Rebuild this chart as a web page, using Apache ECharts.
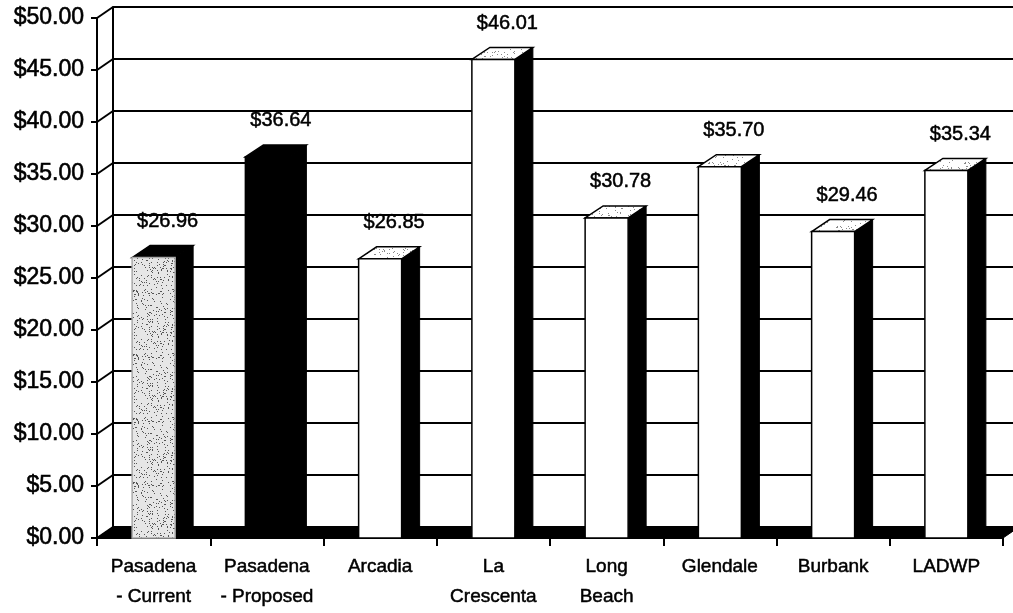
<!DOCTYPE html>
<html>
<head>
<meta charset="utf-8">
<script src="https://cdn.jsdelivr.net/npm/echarts@6/dist/echarts.min.js"></script>
<style>
html,body{margin:0;padding:0;background:#fff}
#chart{width:1013px;height:613px}
</style>
</head>
<body>
<div id="chart"></div>
<script>
// Monthly bill by utility
const categories = ['Pasadena\n- Current', 'Pasadena\n- Proposed', 'Arcadia', 'La\nCrescenta', 'Long\nBeach', 'Glendale', 'Burbank', 'LADWP'];
const rates = [26.96, 36.64, 26.85, 46.01, 30.78, 35.70, 29.46, 35.34];
const tickValues = [0, 5, 10, 15, 20, 25, 30, 35, 40, 45, 50];

// 3D look: back wall offset and bar depth (pixels)
const WALL_DX = 16, WALL_DY = 11;
const BAR_DX = 18, BAR_DY = 12, BAR_W = 43;
const FONT = '"Liberation Sans", Arial, sans-serif';
const money = v => '$' + v.toFixed(2);

// speckled texture for the current-rate bar (fixed hash, same every render)
function stippleCanvas(base, dot, density) {
  const size = 64;
  const c = document.createElement('canvas');
  c.width = c.height = size;
  const g = c.getContext('2d');
  g.fillStyle = base;
  g.fillRect(0, 0, size, size);
  g.fillStyle = dot;
  for (let i = 0; i < size; i++) {
    for (let j = 0; j < size; j++) {
      let h = Math.imul(i + 1, 374761393) ^ Math.imul(j + 7, 668265263);
      h = Math.imul(h ^ (h >>> 13), 1274126177);
      h = (h ^ (h >>> 16)) >>> 0;
      if ((h % 1000) < density) g.fillRect(i, j, 1, 1);
    }
  }
  return c;
}
const grainFront = { image: stippleCanvas('#e6e6e6', '#555', 90), repeat: 'repeat' };
const grainTop = { image: stippleCanvas('#ffffff', '#8a8a8a', 60), repeat: 'repeat' };

const chart = echarts.init(document.getElementById('chart'), null, { renderer: 'canvas' });

chart.setOption({
  animation: false,
  backgroundColor: '#fff',
  grid: [
    { left: 97, right: 10, top: 18, bottom: 75 },
    { left: 97 + WALL_DX, right: -20, top: 18 - WALL_DY, bottom: 75 + WALL_DY }
  ],
  xAxis: [
    {
      type: 'category', gridIndex: 0, data: categories, boundaryGap: true,
      axisLine: { show: true, lineStyle: { color: '#000', width: 2 } },
      axisTick: { show: true, length: 8, lineStyle: { color: '#000', width: 2 } },
      axisLabel: {
        color: '#000', fontSize: 19, fontFamily: FONT, lineHeight: 30, margin: 14, interval: 0,
        textBorderColor: '#000', textBorderWidth: 0.5
      },
      splitLine: { show: false }
    },
    { type: 'value', gridIndex: 1, show: false, min: 0, max: 1 }
  ],
  yAxis: [
    {
      type: 'value', gridIndex: 0, min: 0, max: 50, interval: 5,
      axisLine: { show: true, lineStyle: { color: '#000', width: 2 } },
      axisTick: { show: true, length: 6, lineStyle: { color: '#000', width: 2 } },
      axisLabel: {
        color: '#000', fontSize: 23, fontFamily: FONT, margin: 13, formatter: v => money(v),
        textBorderColor: '#000', textBorderWidth: 0.6
      },
      splitLine: { show: false }
    },
    {
      type: 'value', gridIndex: 1, min: 0, max: 50, interval: 5,
      axisLine: { show: true, lineStyle: { color: '#000', width: 2 } },
      axisTick: { show: false },
      axisLabel: { show: false },
      splitLine: { show: true, lineStyle: { color: '#000', width: 2 } }
    }
  ],
  series: [
    {
      // side-wall connectors from the front axis ticks to the back wall
      type: 'custom', xAxisIndex: 0, yAxisIndex: 0, z: 2, clip: false,
      data: tickValues.map(v => [0, v]),
      renderItem(params, api) {
        const y = api.coord([0, api.value(1)])[1];
        const x = params.coordSys.x;
        return {
          type: 'line',
          shape: { x1: x, y1: y, x2: x + WALL_DX, y2: y - WALL_DY },
          style: { stroke: '#000', lineWidth: 2 }
        };
      }
    },
    {
      // floor slab
      type: 'custom', xAxisIndex: 0, yAxisIndex: 0, z: 3, clip: false,
      data: [[0, 0]],
      renderItem(params, api) {
        const cs = params.coordSys;
        const y0 = api.coord([0, 0])[1];
        const x0 = cs.x, x1 = cs.x + cs.width;
        return {
          type: 'polygon',
          shape: { points: [[x0, y0], [x1, y0], [x1 + WALL_DX, y0 - WALL_DY], [x0 + WALL_DX, y0 - WALL_DY]] },
          style: { fill: '#000', stroke: '#000', lineWidth: 1 }
        };
      }
    },
    {
      // 3D bars with value labels
      type: 'custom', xAxisIndex: 0, yAxisIndex: 0, z: 4, clip: false,
      data: rates.map((v, i) => [i, v]),
      renderItem(params, api) {
        const i = api.value(0), v = api.value(1);
        const top = api.coord([i, v]);
        const base = api.coord([i, 0]);
        const x0 = top[0] - BAR_W / 2, x1 = top[0] + BAR_W / 2;
        const yT = top[1], yB = base[1];
        const frontFill = i === 0 ? grainFront : (i === 1 ? '#000' : '#fff');
        const topFill = i <= 1 ? '#000' : grainTop;
        const frontStroke = i === 0 ? '#aaa' : '#000';
        return {
          type: 'group',
          children: [
            {
              type: 'polygon',
              shape: { points: [[x1, yT], [x1 + BAR_DX, yT - BAR_DY], [x1 + BAR_DX, yB - BAR_DY], [x1, yB]] },
              style: { fill: '#000', stroke: '#000', lineWidth: 1 }
            },
            {
              type: 'polygon',
              shape: { points: [[x0, yT], [x0 + BAR_DX, yT - BAR_DY], [x1 + BAR_DX, yT - BAR_DY], [x1, yT]] },
              style: { fill: topFill, stroke: '#000', lineWidth: 1.5 }
            },
            {
              type: 'rect',
              shape: { x: x0, y: yT, width: BAR_W, height: yB - yT },
              style: { fill: frontFill, stroke: frontStroke, lineWidth: 1.5 }
            },
            {
              type: 'text',
              style: {
                text: money(v), x: top[0] + 14, y: yT - 36,
                align: 'center', verticalAlign: 'middle',
                font: '20px ' + FONT, fill: '#000',
                stroke: '#000', lineWidth: 0.5
              }
            }
          ]
        };
      }
    }
  ]
});
</script>
</body>
</html>
